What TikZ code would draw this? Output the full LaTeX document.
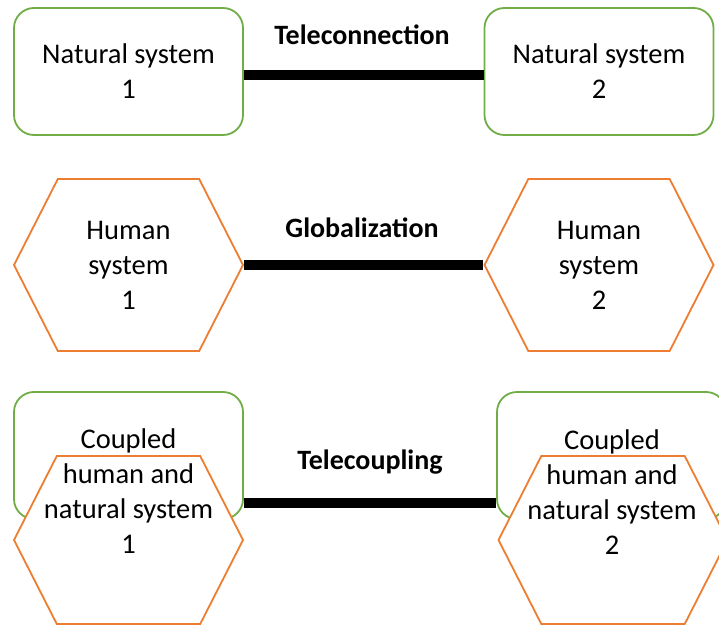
\documentclass[tikz,border=0pt]{standalone}
\usepackage{fontspec}
\setmainfont{Carlito}
\usetikzlibrary{positioning, shapes.symbols}

\definecolor{natgreen}{RGB}{112,173,71}
\definecolor{humorange}{RGB}{237,125,49}

\tikzset{
    natbox/.style={draw=natgreen, line width=1.8pt, rounded corners=20pt, fill=white,
        minimum width=229pt, minimum height=127pt, align=center, inner sep=0pt},
    humanhex/.style={draw=humorange, line width=1.8pt, shape=signal, signal to=east and west,
        signal pointer angle=126, fill=white, minimum width=229pt, minimum height=172pt,
        align=center, inner sep=0pt},
    link/.style={line width=9.5pt},
    linklabel/.style={font=\fontsize{28}{35}\selectfont\bfseries},
}

\begin{document}
\begin{tikzpicture}[x=1pt, y=-1pt, node distance=470.5pt, on grid,
        every node/.append style={font=\fontsize{28.5}{35}\selectfont}]
        \useasboundingbox (0,0) rectangle (719,628);

        % natural systems
        \node[natbox] (ns1) at (128.5,71.5) {Natural system\\1};
        \node[natbox] (ns2) [right=of ns1] {Natural system\\2};
        \node[linklabel] (tcon) at (362,35) {Teleconnection};
        \coordinate (nl) at (362,75);
        \draw[link] (ns1.east |- nl) -- (ns2.west |- nl);

        % human systems
        \node[humanhex] (hs1) at (128.5,265) {Human\\system\\1};
        \node[humanhex] (hs2) [right=of hs1] {Human\\system\\2};
        \draw[link] (hs1.east) -- (hs2.west);
        \node[linklabel] (glob) at (362,228) {Globalization};

        % coupled systems
        \node[natbox] (cn1) at (128.5,455.5) {};
        \node[humanhex, minimum height=168pt] (ch1) at (128.5,540) {};
        \node[align=center] (ct1) at (128.5,491) {Coupled\\human and\\natural system\\1};
        \node[natbox] (cn2) [right=483pt of cn1] {};
        \node[humanhex, minimum height=168pt] (ch2) [right=484.5pt of ch1] {};
        \node[align=center] (ct2) at (612,492) {Coupled\\human and\\natural system\\2};
        \coordinate (tl) at (370,503);
        \draw[link] (cn1.east |- tl) -- (cn2.west |- tl);
        \node[linklabel] (tcoup) at (370,462) {Telecoupling};
    \end{tikzpicture}
\end{document}
